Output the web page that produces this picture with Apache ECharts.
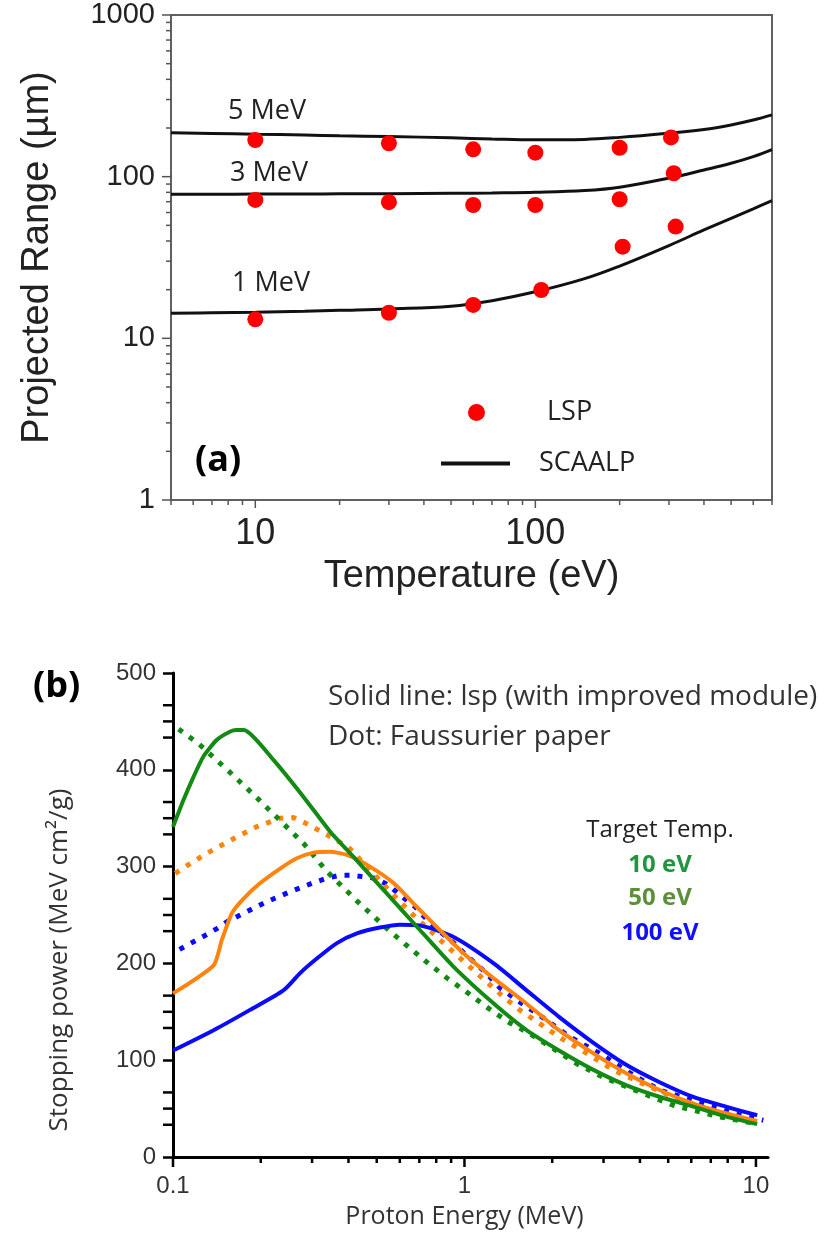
<!DOCTYPE html>
<html>
<head>
<meta charset="utf-8">
<script src="https://cdn.jsdelivr.net/npm/echarts@6/dist/echarts.min.js"></script>
<style>
html,body{margin:0;padding:0;background:#fff;}
#chart{width:833px;height:1236px;}
</style>
</head>
<body>
<div id="chart"></div>
<script>
// ---------- Panel (a): projected range vs temperature ----------
const T_GRID = [5, 7, 10, 15, 20, 30, 50, 70, 100, 150, 200, 300, 400, 500, 600, 700];
const SCAALP_5MEV = [187, 185, 183, 181, 179, 177, 174, 171, 169, 170, 175, 186, 196, 209, 224, 241];
const SCAALP_3MEV = [77.8, 77.9, 78.0, 78.2, 78.3, 78.5, 78.9, 79.3, 80.0, 82, 86, 98, 110, 121, 133, 147];
const SCAALP_1MEV = [14.3, 14.4, 14.5, 14.7, 14.9, 15.2, 15.8, 17.1, 19.4, 23.4, 28.0, 37.5, 46.8, 55.3, 63.2, 71];

const LSP_5MEV_T = [10, 30, 60, 100, 200, 305];
const LSP_5MEV = [168.6, 161, 147.7, 140.7, 151, 175];
const LSP_3MEV_T = [10, 30, 60, 100, 200, 312];
const LSP_3MEV = [71.8, 69.5, 66.8, 66.8, 72.5, 105];
const LSP_1MEV_T = [10, 30, 60, 105, 205, 317];
const LSP_1MEV = [13.1, 14.4, 16.1, 19.9, 36.9, 49.1];

const TOP_X_LABELS = [10, 100];
const TOP_Y_LABELS = [1, 10, 100, 1000];

// ---------- Panel (b): stopping power vs proton energy ----------
const G_SOLID_E = [0.1, 0.1087, 0.1177, 0.1273, 0.1415, 0.1573, 0.165, 0.1747, 0.2214, 0.2805, 0.3463, 0.4163, 0.542, 0.7057, 0.9146, 1.254, 1.633, 2.11, 2.77, 3.6, 4.69, 6.1, 7.95, 10.1];
const G_SOLID_V = [341, 369, 393, 414, 431, 439.5, 441, 441, 410, 372, 336, 310, 272, 234, 197, 159, 131, 110, 90, 74, 62, 52, 41.5, 34];

const G_DOT_E = [0.1045, 0.1224, 0.1573, 0.1942, 0.2397, 0.2805, 0.3372, 0.4293, 0.5556, 0.7306, 0.8783, 1.0, 1.18, 1.41, 1.67, 2.1, 2.42, 2.97, 4.1, 5.2, 7.55, 10.0];
const G_DOT_V = [442, 427, 397, 371, 344, 324, 295, 264, 233, 203, 184, 172, 155.8, 139.6, 127.6, 108.6, 96.6, 82.7, 65.6, 53.5, 41.4, 34.5];

const O_SOLID_E = [0.1, 0.1378, 0.147, 0.1593, 0.1747, 0.1992, 0.2332, 0.2661, 0.3038, 0.3463, 0.3953, 0.4739, 0.571, 0.6853, 0.823, 0.9945, 1.26, 1.63, 2.11, 2.77, 3.6, 4.69, 6.1, 7.95, 10.1];
const O_SOLID_V = [169, 198, 224, 252, 267, 283, 298, 308.6, 314.4, 315.4, 312, 300, 283, 258.5, 234.4, 210.3, 184.5, 158.6, 131, 107, 86.2, 69, 55.2, 44.9, 37.2];

const O_DOT_E = [0.1018, 0.1102, 0.1307, 0.1593, 0.1929, 0.2332, 0.2591, 0.2844, 0.3331, 0.4, 0.4739, 0.571, 0.677, 0.8132, 0.9945, 1.19, 1.36, 1.55, 1.81, 2.11, 2.63, 3.25, 4.2, 5.5, 7.55, 9.8];
const O_DOT_V = [293, 300, 313.7, 328, 341, 350, 350.6, 345, 334, 320, 296.5, 270.6, 248, 226, 202, 181, 165.5, 151.7, 138, 124, 107, 89.7, 74.1, 58.6, 44.9, 36.2];

const B_SOLID_E = [0.1, 0.1378, 0.1838, 0.2397, 0.273, 0.3115, 0.3651, 0.4276, 0.5128, 0.6, 0.7057, 0.9146, 1.26, 1.63, 2.11, 2.77, 3.6, 4.69, 6.1, 7.95, 10.1];
const B_SOLID_V = [110, 131, 152, 172.4, 190, 205, 221, 231, 237, 240, 239, 227.5, 200, 172.4, 144.8, 118, 95, 77, 62, 51.7, 43.1];

const B_DOT_E = [0.1053, 0.1273, 0.1415, 0.155, 0.1701, 0.1891, 0.2072, 0.2303, 0.2524, 0.2786, 0.3076, 0.3372, 0.3729, 0.4109, 0.4929, 0.5487, 0.5934, 0.677, 0.7636, 0.9364, 1.0, 1.11, 1.19, 1.32, 1.55, 1.81, 2.3, 2.85, 3.8, 4.69, 6.3, 8.4, 10.6];
const B_DOT_V = [214.5, 228, 236, 244, 250, 257, 263, 269, 274, 279, 284, 288, 291, 291, 288, 281, 272, 258.5, 241.4, 219, 210, 198, 189.7, 175, 160, 146.5, 124, 108.6, 84.5, 69, 56.9, 44.9, 38];

const BOT_X_LABELS = [0.1, 1, 10];
const BOT_Y_MINOR = [33.3, 50, 66.7, 133.3, 150, 166.7, 233.3, 250, 266.7, 333.3, 350, 366.7, 433.3, 450, 466.7];

// ---------- helpers ----------
const zip = (xs, ys) => xs.map((x, i) => [x, ys[i]]);
function logTicks(min, max) {
  const out = [];
  for (let d = Math.pow(10, Math.floor(Math.log10(min))); d <= max * 1.0001; d *= 10) {
    for (let m = 1; m < 10; m++) {
      const v = +(d * m).toPrecision(6);
      if (v >= min * 0.9999 && v <= max * 1.0001) out.push(v);
    }
  }
  return out;
}
const isDecade = v => Math.abs(Math.log10(v) - Math.round(Math.log10(v))) < 1e-6;
function logLabel(list) {
  return function (value) {
    const v = +(+value).toPrecision(6);
    return list.some(l => Math.abs(l - v) < 1e-9 * Math.max(1, l)) ? String(v) : '';
  };
}
function xTickSeries(xi, yi, yAt, values, isMajor, majorLen, minorLen, color, width) {
  return {
    type: 'custom', xAxisIndex: xi, yAxisIndex: yi, silent: true, clip: false, z: 4,
    data: values.map(v => [v, yAt]),
    renderItem(params, api) {
      const v = api.value(0);
      const p = api.coord([v, api.value(1)]);
      const len = isMajor(v) ? majorLen : minorLen;
      return { type: 'line', shape: { x1: p[0], y1: p[1], x2: p[0], y2: p[1] + len }, style: { stroke: color, lineWidth: width } };
    }
  };
}
function yTickSeries(xi, yi, xAt, values, isMajor, majorLen, minorLen, color, width) {
  return {
    type: 'custom', xAxisIndex: xi, yAxisIndex: yi, silent: true, clip: false, z: 4,
    data: values.map(v => [xAt, v]),
    renderItem(params, api) {
      const p = api.coord([api.value(0), api.value(1)]);
      const len = isMajor(api.value(1)) ? majorLen : minorLen;
      return { type: 'line', shape: { x1: p[0] - len, y1: p[1], x2: p[0], y2: p[1] }, style: { stroke: color, lineWidth: width } };
    }
  };
}

const GREEN = '#138a13', ORANGE = '#ff840f', BLUE = '#0a0aff';
const SANS = '"Liberation Sans", Arial, sans-serif';
const OPEN = '"Open Sans", sans-serif';
const dotStyle = c => ({ color: c, width: 5, type: [5, 8], cap: 'butt' });

const chart = echarts.init(document.getElementById('chart'), null, { renderer: 'canvas' });

const lspData = [].concat(zip(LSP_5MEV_T, LSP_5MEV), zip(LSP_3MEV_T, LSP_3MEV), zip(LSP_1MEV_T, LSP_1MEV));

const option = {
  backgroundColor: '#fff',
  animation: false,
  grid: [
    { left: 171, top: 15, width: 601, height: 485, show: true, borderColor: '#606060', borderWidth: 2, backgroundColor: 'transparent' },
    { left: 173, top: 673, width: 595, height: 484, show: false }
  ],
  legend: [
    { data: [{ name: 'LSP', icon: 'circle' }], left: 468, top: 399, padding: 0, itemWidth: 17, itemHeight: 17, selectedMode: false,
      itemStyle: { color: '#ff0000', opacity: 1 },
      textStyle: { fontFamily: OPEN, fontSize: 27, color: '#222', padding: [0, 0, 0, 57] } },
    { data: [{ name: 'SCAALP', icon: 'rect' }], left: 441, top: 450, padding: 0, itemWidth: 69, itemHeight: 4, selectedMode: false,
      itemStyle: { color: '#111' },
      textStyle: { fontFamily: OPEN, fontSize: 27, color: '#222', padding: [0, 0, 0, 24] } }
  ],
  xAxis: [
    { type: 'log', logBase: 10, gridIndex: 0, min: 5, max: 700,
      axisLine: { show: false }, axisTick: { show: false }, splitLine: { show: false },
      axisLabel: { formatter: logLabel(TOP_X_LABELS), fontFamily: SANS, fontSize: 36, color: '#222', margin: 16, showMinLabel: false, showMaxLabel: false },
      name: 'Temperature (eV)', nameLocation: 'middle', nameGap: 58,
      nameTextStyle: { fontFamily: SANS, fontSize: 38, color: '#222' } },
    { type: 'log', logBase: 10, gridIndex: 1, min: 0.1, max: 11,
      axisLine: { show: true, lineStyle: { color: '#000', width: 3 } }, axisTick: { show: false }, splitLine: { show: false },
      axisLabel: { formatter: logLabel(BOT_X_LABELS), fontFamily: SANS, fontSize: 24, color: '#333', margin: 17, showMaxLabel: false },
      name: 'Proton Energy (MeV)', nameLocation: 'middle', nameGap: 47,
      nameTextStyle: { fontFamily: OPEN, fontSize: 25, color: '#333', padding: [0, 12, 0, 0] } }
  ],
  yAxis: [
    { type: 'log', logBase: 10, gridIndex: 0, min: 1, max: 1000,
      axisLine: { show: false }, axisTick: { show: false }, splitLine: { show: false },
      axisLabel: { formatter: logLabel(TOP_Y_LABELS), fontFamily: SANS, fontSize: 29, color: '#222', margin: 16 },
      name: 'Projected Range (µm)', nameLocation: 'middle', nameGap: 114,
      nameTextStyle: { fontFamily: SANS, fontSize: 38, color: '#222' } },
    { type: 'value', gridIndex: 1, min: 0, max: 500, interval: 100,
      axisLine: { show: true, lineStyle: { color: '#000', width: 3 } },
      axisTick: { show: true, inside: false, length: 10, lineStyle: { color: '#000', width: 2.5 } },
      splitLine: { show: false },
      axisLabel: { fontFamily: SANS, fontSize: 24, color: '#333', margin: 17 } }
  ],
  graphic: [
    { type: 'text', x: 228, y: 111, style: { text: '5 MeV', font: '27px ' + OPEN, fill: '#222', textAlign: 'left', textVerticalAlign: 'middle' } },
    { type: 'text', x: 230, y: 173, style: { text: '3 MeV', font: '27px ' + OPEN, fill: '#222', textAlign: 'left', textVerticalAlign: 'middle' } },
    { type: 'text', x: 232, y: 283, style: { text: '1 MeV', font: '27px ' + OPEN, fill: '#222', textAlign: 'left', textVerticalAlign: 'middle' } },
    { type: 'text', x: 195, y: 461, style: { text: '(a)', font: 'bold 36px ' + OPEN, fill: '#000', textAlign: 'left', textVerticalAlign: 'middle' } },
    { type: 'text', x: 33, y: 687, style: { text: '(b)', font: 'bold 36px ' + OPEN, fill: '#000', textAlign: 'left', textVerticalAlign: 'middle' } },
    { type: 'text', x: 328, y: 697, style: { text: 'Solid line: lsp (with improved module)', font: '28px ' + OPEN, fill: '#333', textAlign: 'left', textVerticalAlign: 'middle' } },
    { type: 'text', x: 328, y: 737, style: { text: 'Dot: Faussurier paper', font: '28px ' + OPEN, fill: '#333', textAlign: 'left', textVerticalAlign: 'middle' } },
    { type: 'text', x: 660, y: 830, style: { text: 'Target Temp.', font: '24px ' + OPEN, fill: '#222', textAlign: 'center', textVerticalAlign: 'middle' } },
    { type: 'text', x: 660, y: 865, style: { text: '10 eV', font: 'bold 24px ' + OPEN, fill: '#1e9640', textAlign: 'center', textVerticalAlign: 'middle' } },
    { type: 'text', x: 660, y: 898, style: { text: '50 eV', font: 'bold 24px ' + OPEN, fill: '#5b8f3b', textAlign: 'center', textVerticalAlign: 'middle' } },
    { type: 'text', x: 660, y: 933, style: { text: '100 eV', font: 'bold 24px ' + OPEN, fill: '#1010ff', textAlign: 'center', textVerticalAlign: 'middle' } },
    { type: 'text', x: 60, y: 960, rotation: Math.PI / 2, style: { text: 'Stopping power (MeV cm²/g)', font: '26px ' + OPEN, fill: '#333', textAlign: 'center', textVerticalAlign: 'middle' } }
  ],
  series: [
    { name: 'SCAALP', type: 'line', xAxisIndex: 0, yAxisIndex: 0, data: zip(T_GRID, SCAALP_5MEV), smooth: 0.4, symbol: 'none', lineStyle: { color: '#111', width: 3 }, itemStyle: { color: '#111' }, z: 3 },
    { name: 'SCAALP', type: 'line', xAxisIndex: 0, yAxisIndex: 0, data: zip(T_GRID, SCAALP_3MEV), smooth: 0.4, symbol: 'none', lineStyle: { color: '#111', width: 3 }, itemStyle: { color: '#111' }, z: 3 },
    { name: 'SCAALP', type: 'line', xAxisIndex: 0, yAxisIndex: 0, data: zip(T_GRID, SCAALP_1MEV), smooth: 0.4, symbol: 'none', lineStyle: { color: '#111', width: 3 }, itemStyle: { color: '#111' }, z: 3 },
    { name: 'LSP', type: 'scatter', xAxisIndex: 0, yAxisIndex: 0, data: lspData, symbol: 'circle', symbolSize: 16, itemStyle: { color: '#ff0000', opacity: 1 }, z: 4 },

    { name: '100 eV Faussurier', type: 'line', xAxisIndex: 1, yAxisIndex: 1, data: zip(B_DOT_E, B_DOT_V), symbol: 'none', lineStyle: dotStyle(BLUE), z: 2 },
    { name: '50 eV Faussurier', type: 'line', xAxisIndex: 1, yAxisIndex: 1, data: zip(O_DOT_E, O_DOT_V), symbol: 'none', lineStyle: dotStyle(ORANGE), z: 2 },
    { name: '10 eV Faussurier', type: 'line', xAxisIndex: 1, yAxisIndex: 1, data: zip(G_DOT_E, G_DOT_V), symbol: 'none', lineStyle: dotStyle(GREEN), z: 2 },
    { name: '100 eV lsp', type: 'line', xAxisIndex: 1, yAxisIndex: 1, data: zip(B_SOLID_E, B_SOLID_V), symbol: 'none', smooth: 0.25, lineStyle: { color: BLUE, width: 4 }, z: 3 },
    { name: '50 eV lsp', type: 'line', xAxisIndex: 1, yAxisIndex: 1, data: zip(O_SOLID_E, O_SOLID_V), symbol: 'none', smooth: 0.2, lineStyle: { color: ORANGE, width: 4 }, z: 3 },
    { name: '10 eV lsp', type: 'line', xAxisIndex: 1, yAxisIndex: 1, data: zip(G_SOLID_E, G_SOLID_V), symbol: 'none', smooth: 0.2, lineStyle: { color: GREEN, width: 4 }, z: 3 },

    xTickSeries(0, 0, 1, logTicks(5, 700), isDecade, 8, 5, '#555', 1.5),
    yTickSeries(0, 0, 5, logTicks(1, 1000), isDecade, 9, 5, '#555', 1.5),
    xTickSeries(1, 1, 0, logTicks(0.1, 11), isDecade, 10, 6, '#000', 2.5),
    yTickSeries(1, 1, 0.1, BOT_Y_MINOR, () => false, 10, 10, '#000', 2.5)
  ]
};
chart.setOption(option);
</script>
</body>
</html>
